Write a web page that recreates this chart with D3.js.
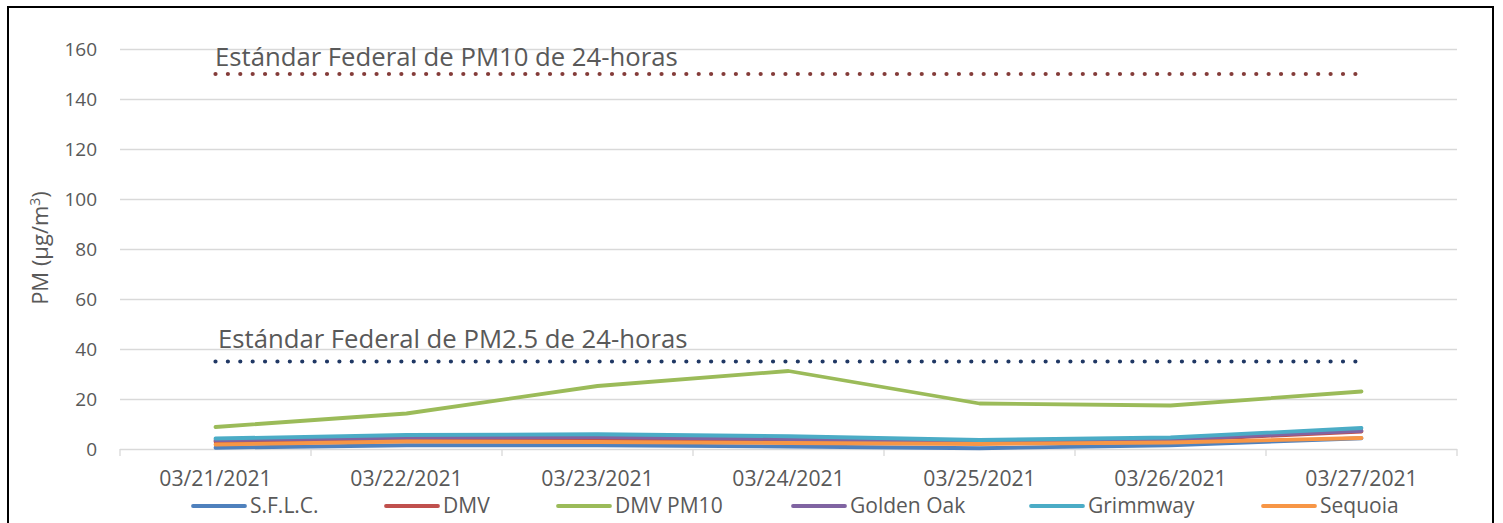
<!doctype html>
<html lang="es">
  <head>
    <meta charset="utf-8">
    <title>PM 03/21/2021 - 03/27/2021</title>
    <style>
      body{
        margin: 0;
        background: #fff;
      }
      svg text{
        font-family: "Open Sans", Lato, sans-serif;
        fill: #595959;
      }
    </style>
  </head>
  <body>
    <svg id="chart" width="1503" height="523"></svg>
    <script src="https://d3js.org/d3.v7.min.js"></script>
    <script>

      //categories on the x axis
      var dates = ["03/21/2021", "03/22/2021", "03/23/2021", "03/24/2021", "03/25/2021", "03/26/2021", "03/27/2021"];

      //series values (µg/m3)
      var sflc      = [0.5, 1.5, 1.5, 1.0, 0.3, 1.5, 4.3];
      var dmv       = [3.0, 4.0, 3.8, 3.2, 2.6, 3.4, 7.0];
      var dmvPm10   = [8.8, 14.2, 25.2, 31.2, 18.2, 17.4, 23.0];
      var goldenOak = [3.5, 4.6, 4.8, 4.0, 3.0, 3.8, 7.3];
      var grimmway  = [4.2, 5.6, 5.9, 5.1, 3.6, 4.6, 8.4];
      var sequoia   = [1.8, 3.0, 2.8, 2.4, 2.0, 2.6, 4.4];

      //federal standards
      var pm10Standard = 150;
      var pm25Standard = 35;

      var yTicks = [0, 20, 40, 60, 80, 100, 120, 140, 160];

      var series = [
        {name: "S.F.L.C.", values: sflc, color: "#4F81BD"},
        {name: "DMV", values: dmv, color: "#C0504D"},
        {name: "DMV PM10", values: dmvPm10, color: "#9BBB59"},
        {name: "Golden Oak", values: goldenOak, color: "#8064A2"},
        {name: "Grimmway", values: grimmway, color: "#4BACC6"},
        {name: "Sequoia", values: sequoia, color: "#F79646"}
      ];

      var svg = d3.select("#chart");

      //outer frame
      svg.append("rect")
        .attr("x", 8)
        .attr("y", 7)
        .attr("width", 1485)
        .attr("height", 530)
        .attr("fill", "none")
        .attr("stroke", "#000")
        .attr("stroke-width", 2);

      var x = d3.scaleBand().domain(dates).range([120, 1457]);
      var y = d3.scaleLinear().domain([0, 160]).range([449, 49]);

      //horizontal gridlines
      svg.append("g")
        .selectAll("line")
        .data(yTicks.slice(1))
        .enter()
        .append("line")
        .attr("x1", 120)
        .attr("x2", 1457)
        .attr("y1", function(d){ return y(d) + 0.5; })
        .attr("y2", function(d){ return y(d) + 0.5; })
        .attr("stroke", "#D9D9D9")
        .attr("stroke-width", 1.3);

      //y axis labels
      var yAxis = svg.append("g")
        .attr("transform", "translate(97,0)")
        .call(d3.axisLeft(y).tickValues(yTicks).tickSize(0).tickPadding(0));
      yAxis.select(".domain").remove();
      yAxis.selectAll("text")
        .style("font-size", "19px")
        .attr("dy", "0.35em");

      //x axis with ticks between categories
      var xAxisG = svg.append("g");
      xAxisG.append("line")
        .attr("x1", 120)
        .attr("x2", 1457)
        .attr("y1", 449.5)
        .attr("y2", 449.5)
        .attr("stroke", "#D9D9D9")
        .attr("stroke-width", 1.3);
      xAxisG.selectAll(".tick-mark")
        .data(dates.concat(["end"]))
        .enter()
        .append("line")
        .attr("class", "tick-mark")
        .attr("x1", function(d, i){ return 120 + i * x.bandwidth(); })
        .attr("x2", function(d, i){ return 120 + i * x.bandwidth(); })
        .attr("y1", 449)
        .attr("y2", 456)
        .attr("stroke", "#D9D9D9")
        .attr("stroke-width", 1.3);
      xAxisG.selectAll(".date-label")
        .data(dates)
        .enter()
        .append("text")
        .attr("class", "date-label")
        .attr("x", function(d){ return x(d) + x.bandwidth() / 2; })
        .attr("y", 486)
        .attr("text-anchor", "middle")
        .style("font-size", "21.2px")
        .text(function(d){ return d; });

      //y axis title
      var yTitle = svg.append("text")
        .attr("transform", "translate(48,248) rotate(-90)")
        .attr("text-anchor", "middle")
        .style("font-size", "22px");
      yTitle.append("tspan").text("PM (µg/m");
      yTitle.append("tspan").attr("dy", -8).style("font-size", "14px").text("3");
      yTitle.append("tspan").attr("dy", 8).text(")");

      var cx = function(d){ return x(d) + x.bandwidth() / 2; };

      //federal standard lines (dotted)
      var standards = [
        {value: pm10Standard, color: "#843C39", label: "Estándar Federal de PM10 de 24-horas", lx: 215, ly: 66},
        {value: pm25Standard, color: "#203864", label: "Estándar Federal de PM2.5 de 24-horas", lx: 218, ly: 348}
      ];
      standards.forEach(function(s){
        svg.append("line")
          .attr("x1", cx(dates[0]))
          .attr("x2", cx(dates[dates.length - 1]))
          .attr("y1", y(s.value))
          .attr("y2", y(s.value))
          .attr("stroke", s.color)
          .attr("stroke-width", 4.2)
          .attr("stroke-linecap", "round")
          .attr("stroke-dasharray", "0.01 12.38");
        svg.append("text")
          .attr("x", s.lx)
          .attr("y", s.ly)
          .style("font-size", "25.7px")
          .text(s.label);
      });

      //data lines
      var line = d3.line()
        .x(function(d, i){ return cx(dates[i]); })
        .y(function(d){ return y(d); });

      svg.append("g")
        .selectAll("path")
        .data(series)
        .enter()
        .append("path")
        .attr("d", function(d){ return line(d.values); })
        .attr("fill", "none")
        .attr("stroke", function(d){ return d.color; })
        .attr("stroke-width", 3.8)
        .attr("stroke-linecap", "round")
        .attr("stroke-linejoin", "round");

      //legend
      var legendX = [193, 386, 558, 793, 1031, 1263];
      var legend = svg.append("g")
        .selectAll("g")
        .data(series)
        .enter()
        .append("g")
        .attr("transform", function(d, i){ return "translate(" + legendX[i] + ",506)"; });
      legend.append("line")
        .attr("x1", 0)
        .attr("x2", 52)
        .attr("stroke", function(d){ return d.color; })
        .attr("stroke-width", 3.8)
        .attr("stroke-linecap", "round");
      legend.append("text")
        .attr("x", 57)
        .attr("dy", "0.35em")
        .style("font-size", "21px")
        .text(function(d){ return d.name; });

    </script>
  </body>
</html>
